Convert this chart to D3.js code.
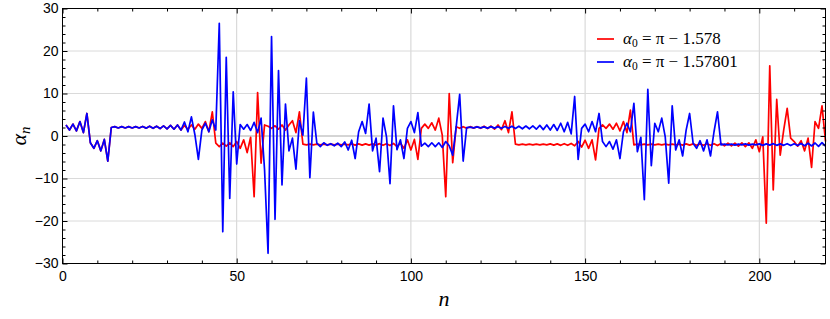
<!DOCTYPE html>
<html><head><meta charset="utf-8">
<script src="https://cdn.jsdelivr.net/npm/d3@7/dist/d3.min.js"></script>
<style>body{margin:0;background:#fff}svg{display:block}</style>
</head><body>
<svg id="c" width="830" height="319"></svg>
<script>
const xTicks = [0, 50, 100, 150, 200];
const yTicks = [-30, -20, -10, 0, 10, 20, 30];
const legendLabels = ["π − 1.578", "π − 1.57801"];

// series 2 (blue), alpha0 = pi - 1.57801, n = 1..219
const blueVals = [
 2.6, 1.4, 2.8, 1.2, 3.4, 0.8, 5.3, -1.6, -2.9, -1.1, -3.5, -0.8, -5.9,
 2.0, 2.2, 1.9, 2.2, 1.9, 2.2, 1.9, 2.2, 1.9, 2.25, 1.85, 2.3, 1.8, 2.3, 1.75, 2.4, 1.7, 2.5, 1.6, 2.6, 1.4,
 3.3, 1.0, 4.5, 0.3, -5.5, 1.4, 3.0, 1.0, 3.8, 1.4, 26.5, -22.5, 18.5, -14.7, 10.4, -6.6,
 2.7, 1.6, 2.7, 1.3, 3.2, 0.8, 4.2, -8.0, -27.6, 23.4, -19.6, 15.4, -11.5, 7.5, -3.5, -0.5, -7.8, 3.6, 0.2, 13.6, -9.8, 5.6, -1.7,
 -2.5, -1.6, -2.2, -1.8, -2.3, -1.7, -2.5, -1.4, -3.3, -1.0,
 -5.3, 1.0, 3.4, 0.6, 7.5, -3.5, -0.5, -8.4, 4.2, -0.2, -11.2, 7.1, -3.2, -0.9, -5.3, 1.8, 3.4, 0.8, 5.5,
 -2.4, -1.7, -2.5, -1.6, -2.5, -1.6, -2.7, -1.3, -2.3, -4.5, 2.2, 9.8, -5.9, 2.0,
 2.1, 1.9, 2.15, 1.9, 2.15, 1.85, 2.2, 1.85, 2.2, 1.8, 2.25, 1.8, 2.3, 1.75, 2.3, 1.7, 2.35, 1.7, 2.4, 1.6, 2.5, 1.5, 2.6, 1.4, 2.7, 1.3, 3.0, 1.0, 3.2, 0.5,
 9.3, -5.5, 1.8, 2.8, 1.0, 3.4, 1.0, 5.3, -1.3, -2.5, -1.3, -3.1, -0.9, -5.3, 1.0, 3.0, 1.0, 7.7, -3.7, -0.3, -15.0, 11.0, -7.0,
 3.0, 1.0, 4.2, -0.2, -11.1, 7.1, -3.3, -0.9, -4.7, 1.4, 5.3, -1.7, -2.9, -1.1, -3.5, -0.9, -4.7, 1.0, 5.7, -2.1,
 -1.9, -2.1, -1.9, -2.15, -1.9, -2.1, -1.85, -2.15, -1.9, -2.1, -1.85, -2.2, -1.85, -2.15, -1.8, -2.2, -1.85, -2.2, -1.8, -2.25, -1.8, -2.25, -1.75, -2.3, -1.7, -2.35, -1.65, -2.45, -1.55, -2.4
];

// series 1 (red), alpha0 = pi - 1.578, n = 1..219
const redVals = [
 2.6, 1.4, 2.8, 1.2, 3.4, 0.8, 5.3, -1.6, -2.9, -1.1, -3.5, -0.8, -5.9,
 2.0, 2.2, 1.9, 2.2, 1.9, 2.2, 1.9, 2.2, 1.9, 2.25, 1.85, 2.3, 1.8, 2.3, 1.75, 2.4, 1.7, 2.5, 1.6, 2.6, 1.4,
 2.5, 1.6, 2.6, 1.6, 2.8, 1.8, 3.4, 1.0, 5.7,
 -1.7, -2.5, -1.7, -2.4, -1.6, -2.5, -1.3, -2.9, -0.9, -3.9, -0.3,
 -14.3, 10.2, -6.4, 2.6, 2.3, 1.8, 2.4, 1.6, 2.6, 1.4, 2.6, 3.6, 0.8, 5.7,
 -1.9, -2.1, -1.9, -2.1, -1.9, -2.1, -1.9, -2.1, -1.9, -2.1, -1.9, -2.1, -1.9, -2.1, -1.85, -2.15, -1.85, -2.15, -1.85, -2.15, -1.85, -2.15, -1.8, -2.2, -1.8, -2.25, -1.75,
 -2.5, -1.7, -2.9, -0.9, -3.3, -0.8,
 -5.5, 1.8, 2.8, 1.8, 3.1, 1.4, 4.2, 0.2, -14.3, 10.0, -6.3, 2.2,
 1.8, 2.2, 1.8, 2.2, 1.85, 2.2, 1.8, 2.3, 1.75, 2.35, 1.6, 2.6, 1.5, 3.6, 0.8, 5.7,
 -1.9, -2.1, -1.9, -2.1, -1.9, -2.1, -1.9, -2.1, -1.9, -2.1, -1.85, -2.15, -1.85, -2.2, -1.8, -2.2, -1.75, -2.3,
 -1.3, -2.6, -1.0, -2.9, -0.9, -5.6, 1.8, 2.6, 1.8, 2.8, 1.6, 3.0, 1.2, 3.4, 0.8, 6.1,
 -2.1, -1.9, -2.1, -1.9, -2.1, -1.9, -2.1, -1.9, -2.1, -1.9, -2.1, -1.9, -2.1, -1.9,
 -2.15, -1.85, -2.15, -1.85, -2.2, -1.85, -2.2, -1.8, -2.2, -1.8, -2.25, -1.75, -2.3, -1.7, -2.3, -1.7, -2.4, -1.6,
 -2.5, -1.6, -2.9, -0.9, -3.7, -0.2, -20.5, 16.5, -12.7, 8.6, -4.5, 1.4, 6.5, -0.5, -1.3, -2.4, -1.1, -3.5, -0.5, -7.4, 3.4, 1.8, 7.1, -1.3
];

const svg = d3.select("#c");
const x = d3.scaleLinear().domain([0, 219]).range([62.5, 825.5]);
const y = d3.scaleLinear().domain([-30, 30]).range([263.5, 8.5]);
const [x0, x1] = x.range(), [y0, y1] = y.range();

// grid
const g = svg.append("g");
g.selectAll("line.vg").data(xTicks.filter(d => d > 0)).join("line")
  .attr("x1", d => x(d)).attr("x2", d => x(d)).attr("y1", y1).attr("y2", y0)
  .attr("stroke", "#d2d2d2").attr("stroke-width", 1);
g.selectAll("line.hg").data(yTicks.filter(d => d > -30 && d < 30)).join("line")
  .attr("x1", x0).attr("x2", x1).attr("y1", d => y(d)).attr("y2", d => y(d))
  .attr("stroke", d => d === 0 ? "#aaaaaa" : "#dadada").attr("stroke-width", 1);

// lines
const line = d3.line().x((d, i) => x(i + 1)).y(d => y(d));
svg.append("path").datum(redVals).attr("d", line).attr("fill", "none")
  .attr("stroke", "#ff0000").attr("stroke-width", 1.7).attr("stroke-linejoin", "round");
svg.append("path").datum(blueVals).attr("d", line).attr("fill", "none")
  .attr("stroke", "#0000ff").attr("stroke-width", 1.7).attr("stroke-linejoin", "round");

// axes (ticks inward)
const font = "'Liberation Sans', Arial, sans-serif";
const minorX = d3.range(0, 220, 10).filter(d => d % 50 !== 0);
const minorY = d3.range(-30, 31, 2).filter(d => d % 10 !== 0);
function styleAxis(sel) {
  sel.select(".domain").remove();
  sel.selectAll(".tick line").attr("stroke", "#000").attr("stroke-width", 1);
  sel.selectAll("text").attr("font-family", font).attr("font-size", 14).attr("fill", "#000");
}
svg.append("g").attr("transform", `translate(0,${y0})`)
  .call(d3.axisBottom(x).tickValues(xTicks).tickSize(-5).tickPadding(7.5).tickFormat(d3.format("d")))
  .call(styleAxis);
svg.append("g").attr("transform", `translate(0,${y0})`)
  .call(d3.axisBottom(x).tickValues(minorX).tickSize(-3).tickFormat(""))
  .call(styleAxis);
svg.append("g").attr("transform", `translate(0,${y1})`)
  .call(d3.axisTop(x).tickValues(xTicks).tickSize(-5).tickFormat(""))
  .call(styleAxis);
svg.append("g").attr("transform", `translate(0,${y1})`)
  .call(d3.axisTop(x).tickValues(minorX).tickSize(-3).tickFormat(""))
  .call(styleAxis);
svg.append("g").attr("transform", `translate(${x0},0)`)
  .call(d3.axisLeft(y).tickValues(yTicks).tickSize(-5).tickPadding(4)
    .tickFormat(d => d < 0 ? "\u2212" + Math.abs(d) : String(d)))
  .call(styleAxis);
svg.append("g").attr("transform", `translate(${x0},0)`)
  .call(d3.axisLeft(y).tickValues(minorY).tickSize(-3).tickFormat(""))
  .call(styleAxis);
svg.append("g").attr("transform", `translate(${x1},0)`)
  .call(d3.axisRight(y).tickValues(yTicks).tickSize(-5).tickFormat(""))
  .call(styleAxis);
svg.append("g").attr("transform", `translate(${x1},0)`)
  .call(d3.axisRight(y).tickValues(minorY).tickSize(-3).tickFormat(""))
  .call(styleAxis);

// frame
svg.append("rect").attr("x", x0).attr("y", y1).attr("width", x1 - x0).attr("height", y0 - y1)
  .attr("fill", "none").attr("stroke", "#000").attr("stroke-width", 1);

// axis titles
const serif = "'Liberation Serif', 'DejaVu Serif', serif";
const yl = svg.append("text").attr("transform", "translate(26,136) rotate(-90)")
  .attr("text-anchor", "middle").attr("font-family", serif).attr("font-size", 22).attr("font-style", "italic");
yl.append("tspan").text("α");
yl.append("tspan").attr("font-size", 15).attr("dy", 4).text("n");
svg.append("text").attr("x", 444).attr("y", 306).attr("text-anchor", "middle")
  .attr("font-family", serif).attr("font-size", 22).attr("font-style", "italic").text("n");

// legend
const leg = svg.append("g");
const colors = ["#ff0000", "#0000ff"];
legendLabels.forEach((lab, i) => {
  const yy = 39 + i * 23;
  leg.append("line").attr("x1", 597).attr("x2", 614).attr("y1", yy).attr("y2", yy)
    .attr("stroke", colors[i]).attr("stroke-width", 1.7);
  const t = leg.append("text").attr("x", 623).attr("y", yy + 5).attr("font-family", serif).attr("font-size", 17);
  t.append("tspan").attr("font-style", "italic").text("α");
  t.append("tspan").attr("font-size", 11.5).attr("dy", 3).text("0");
  t.append("tspan").attr("dy", -3).text(" = " + lab);
});
</script>
</body></html>
